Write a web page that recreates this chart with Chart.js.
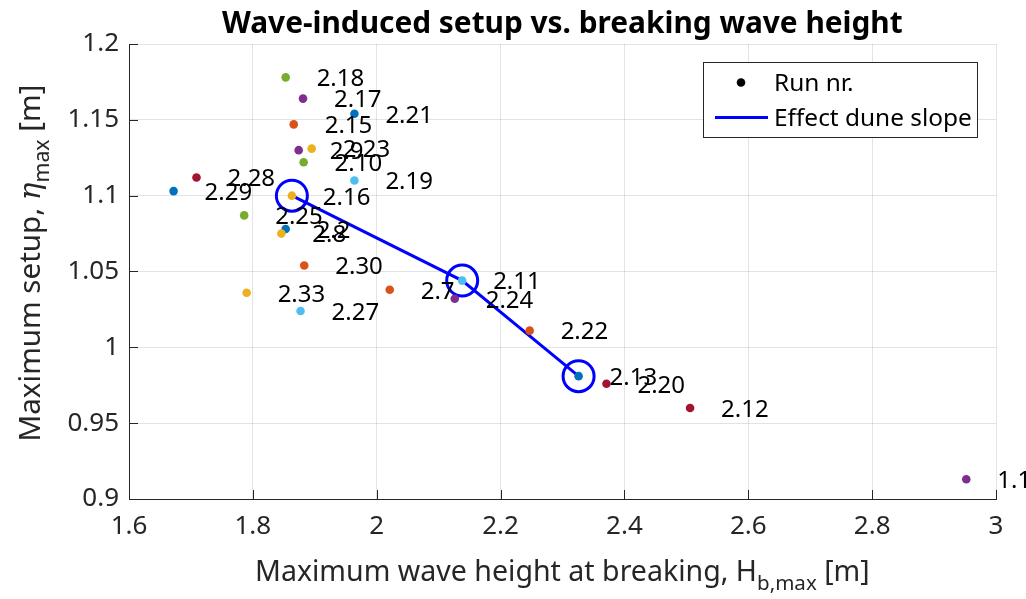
<!DOCTYPE html>
<html><head><meta charset="utf-8">
<script src="https://cdn.jsdelivr.net/npm/chart.js@4.4.1/dist/chart.umd.min.js"></script>
<style>html,body{margin:0;padding:0;background:#fff}#wrap{width:1026px;height:599px}</style>
</head><body><div id="wrap"><canvas id="c" width="1026" height="599"></canvas></div>
<script>
// ---- data ----
const runLabels = ['2.18','2.17','2.21','2.15','2.9','2.23','2.10','2.19','2.28','2.29','2.16','2.25','2.2','2.8','2.30','2.33','2.27','2.7','2.11','2.24','2.22','2.13','2.20','2.12','1.1'];
const hbMax = [1.853,1.881,1.964,1.866,1.874,1.895,1.882,1.964,1.709,1.672,1.863,1.786,1.853,1.846,1.883,1.790,1.877,2.021,2.138,2.126,2.247,2.326,2.371,2.506,2.952];
const etaMax = [1.178,1.164,1.154,1.147,1.130,1.131,1.122,1.110,1.112,1.103,1.100,1.087,1.078,1.075,1.054,1.036,1.024,1.038,1.044,1.032,1.011,0.981,0.976,0.960,0.913];
const runColors = ['#77AC30','#7E2F8E','#0072BD','#D95319','#7E2F8E','#EDB120','#77AC30','#4DBEEE','#A2142F','#0072BD','#EDB120','#77AC30','#0072BD','#EDB120','#D95319','#EDB120','#4DBEEE','#D95319','#4DBEEE','#7E2F8E','#D95319','#0072BD','#A2142F','#A2142F','#7E2F8E'];
const slopeHb = [1.863,2.138,2.326];
const slopeEta = [1.100,1.044,0.981];
const xTickValues = [1.6,1.8,2,2.2,2.4,2.6,2.8,3];
const xTickLabels = ['1.6','1.8','2','2.2','2.4','2.6','2.8','3'];
const yTickValues = [0.9,0.95,1,1.05,1.1,1.15,1.2];
const yTickLabels = ['0.9','0.95','1','1.05','1.1','1.15','1.2'];
const labelOffsetX = 0.05;

const FONT = '"Noto Sans", sans-serif';
const AXC = '#262626';

function fontStr(p, s){ return (p.italic?'italic ':'')+(p.bold?'bold ':'')+(s*(p.scale||1))+'px '+(p.family||FONT); }
function measureParts(ctx, parts, s){ let w=0; for(const p of parts){ ctx.font=fontStr(p,s); w+=ctx.measureText(p.t).width; } return w; }
function drawParts(ctx, parts, cx, baseY, targetW, color){
  const s = 100*targetW/measureParts(ctx, parts, 100);
  let x = cx - targetW/2;
  ctx.fillStyle=color; ctx.textAlign='left'; ctx.textBaseline='alphabetic';
  for(const p of parts){ ctx.font=fontStr(p,s); ctx.fillText(p.t, x, baseY+(p.dy||0)*s); x+=ctx.measureText(p.t).width; }
}

const decor = {
  id:'decor',
  beforeDatasetsDraw(chart){
    const ctx=chart.ctx, a=chart.chartArea, xs=chart.scales.x, ys=chart.scales.y;
    ctx.save(); ctx.strokeStyle=AXC; ctx.lineWidth=1; ctx.beginPath();
    for(const v of xTickValues){ const px=Math.round(xs.getPixelForValue(v))+0.5; ctx.moveTo(px,a.bottom); ctx.lineTo(px,a.bottom-9); }
    for(const v of yTickValues){ const py=Math.round(ys.getPixelForValue(v))+0.5; ctx.moveTo(a.left,py); ctx.lineTo(a.left+9,py); }
    ctx.stroke(); ctx.restore();
  },
  afterDatasetsDraw(chart){
    const ctx=chart.ctx, a=chart.chartArea, xs=chart.scales.x;
    const meta=chart.getDatasetMeta(0);
    ctx.save();
    ctx.font='24px '+FONT; ctx.fillStyle='#000'; ctx.textAlign='left'; ctx.textBaseline='middle';
    meta.data.forEach((el,i)=>{ ctx.fillText(runLabels[i], xs.getPixelForValue(hbMax[i]+labelOffsetX), el.y+2); });
    // legend
    const lx=703.5, ly=62.5, lw=274, lh=75;
    ctx.fillStyle='#fff'; ctx.fillRect(lx,ly,lw,lh);
    ctx.strokeStyle=AXC; ctx.lineWidth=1; ctx.strokeRect(lx,ly,lw,lh);
    ctx.fillStyle='#000'; ctx.beginPath(); ctx.arc(741,82.5,4.3,0,Math.PI*2); ctx.fill();
    ctx.strokeStyle='#0000FF'; ctx.lineWidth=3; ctx.beginPath(); ctx.moveTo(715,117.5); ctx.lineTo(768,117.5); ctx.stroke();
    const ls = 100*198/(()=>{ctx.font='100px '+FONT; return ctx.measureText(chart.data.datasets[1].label).width;})();
    ctx.font=ls+'px '+FONT; ctx.fillStyle='#000'; ctx.textBaseline='middle';
    ctx.fillText(chart.data.datasets[0].label, 774, 84);
    ctx.fillText(chart.data.datasets[1].label, 774, 119);
    // title
    const cx=(a.left+a.right)/2;
    drawParts(ctx,[{t:'Wave-induced setup vs. breaking wave height',bold:true}],cx,33,681,'#000');
    // x title
    drawParts(ctx,[{t:'Maximum wave height at breaking, H'},{t:'b,max',scale:0.72,dy:0.3},{t:' [m]'}],cx,581,615,AXC);
    // y title
    ctx.translate(40,263); ctx.rotate(-Math.PI/2);
    drawParts(ctx,[{t:'Maximum setup, '},{t:'\u03B7',italic:true,family:'"DejaVu Serif", serif'},{t:'max',scale:0.72,dy:0.3},{t:' [m]'}],0,0,357,AXC);
    ctx.restore();
  }
};

new Chart(document.getElementById('c'),{
  type:'scatter',
  data:{datasets:[
    {label:'Run nr.', data:hbMax.map((x,i)=>({x, y:etaMax[i]})), pointRadius:4.3, pointHoverRadius:4.3, pointBorderWidth:0, pointBackgroundColor:runColors, order:0},
    {label:'Effect dune slope', data:slopeHb.map((x,i)=>({x, y:slopeEta[i]})), showLine:true, borderColor:'#0000FF', borderWidth:3, pointRadius:15.5, pointHoverRadius:15.5, pointBorderWidth:3, pointBorderColor:'#0000FF', pointBackgroundColor:'rgba(0,0,0,0)', order:1}
  ]},
  options:{
    responsive:false, animation:false, devicePixelRatio:1,
    layout:{padding:{top:44,right:30,left:0,bottom:0}},
    plugins:{legend:{display:false}, tooltip:{enabled:false}, title:{display:false}},
    scales:{
      x:{type:'linear', min:1.6, max:3,
        afterBuildTicks:s=>{ s.ticks=xTickValues.map(v=>({value:v})); },
        afterFit:s=>{ s.height=100; },
        ticks:{callback:(v,i)=>xTickLabels[i], font:{family:FONT,size:26}, color:AXC, padding:12, maxRotation:0, autoSkip:false},
        grid:{color:'rgba(38,38,38,0.13)', drawTicks:false},
        border:{display:true, color:AXC, width:1}},
      y:{type:'linear', min:0.9, max:1.2,
        afterBuildTicks:s=>{ s.ticks=yTickValues.map(v=>({value:v})); },
        afterFit:s=>{ s.width=129; },
        ticks:{callback:(v,i)=>yTickLabels[i], font:{family:FONT,size:26}, color:AXC, padding:10, autoSkip:false},
        grid:{color:'rgba(38,38,38,0.13)', drawTicks:false},
        border:{display:true, color:AXC, width:1}}
    }
  },
  plugins:[decor]
});
</script></body></html>
